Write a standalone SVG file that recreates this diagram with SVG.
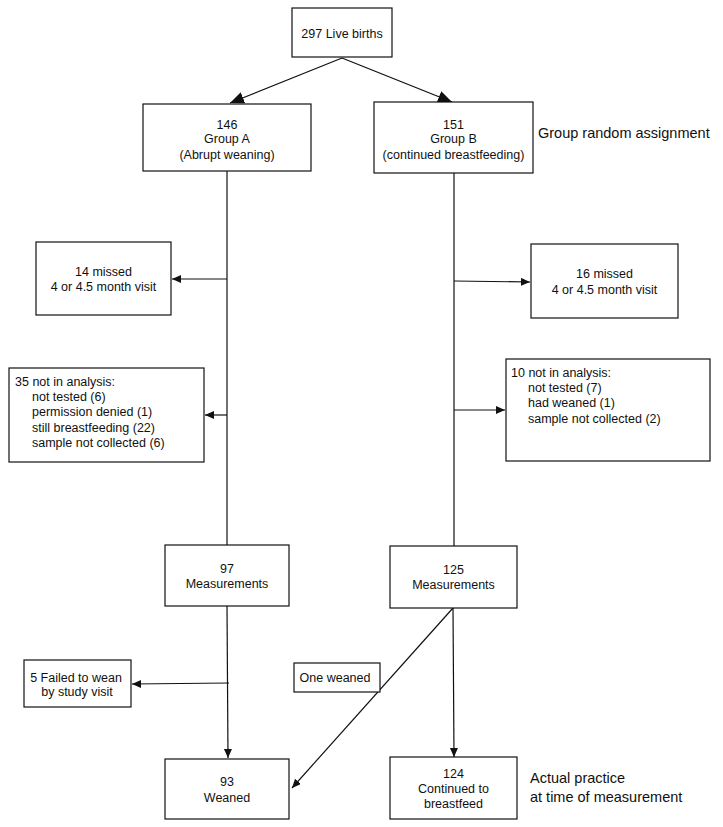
<svg xmlns="http://www.w3.org/2000/svg" width="723" height="827" viewBox="0 0 723 827">
<style>
.box{fill:#fff;stroke:#111;stroke-width:1.2}
.t{font-family:"Liberation Sans",Arial,sans-serif;font-size:12.5px;fill:#111}
.c{text-anchor:middle}
.big{font-family:"Liberation Sans",Arial,sans-serif;font-size:14.5px;fill:#111}
.ln{stroke:#111;stroke-width:1.2;fill:none}
</style>
<defs>
<marker id="ab" markerUnits="userSpaceOnUse" markerWidth="16" markerHeight="14" refX="14" refY="6" orient="auto">
<path d="M0,0 L14,6 L0,12 Z" fill="#111"/>
</marker>
<marker id="as" markerUnits="userSpaceOnUse" markerWidth="12" markerHeight="10" refX="9" refY="4" orient="auto">
<path d="M0,0 L9,4 L0,8 Z" fill="#111"/>
</marker>
</defs>
<g id="connectors">
<line class="ln" x1="342" y1="58" x2="230" y2="103" marker-end="url(#ab)"/>
<line class="ln" x1="342" y1="58" x2="452" y2="102" marker-end="url(#ab)"/>
<line class="ln" x1="227" y1="171" x2="227" y2="545"/>
<line class="ln" x1="454" y1="173" x2="454" y2="546"/>
<line class="ln" x1="227" y1="279" x2="172" y2="279" marker-end="url(#as)"/>
<line class="ln" x1="227" y1="415" x2="205" y2="415" marker-end="url(#as)"/>
<line class="ln" x1="454" y1="281" x2="530" y2="282" marker-end="url(#as)"/>
<line class="ln" x1="454" y1="410" x2="505" y2="410" marker-end="url(#as)"/>
<line class="ln" x1="227" y1="606" x2="228" y2="758" marker-end="url(#as)"/>
<line class="ln" x1="229" y1="683" x2="132" y2="684" marker-end="url(#as)"/>
<line class="ln" x1="453" y1="608" x2="454" y2="757" marker-end="url(#as)"/>
<line class="ln" x1="453" y1="608" x2="292" y2="788" marker-end="url(#as)"/>
</g>
<g id="live-births">
<rect class="box" x="292" y="8" width="100" height="49"/>
<text class="t c" x="342" y="37.5">297 Live births</text>
</g>
<g id="group-a">
<rect class="box" x="143" y="104" width="168" height="67"/>
<text class="t c" x="227" y="128.5">146</text>
<text class="t c" x="227" y="143">Group A</text>
<text class="t c" x="227" y="158.5">(Abrupt weaning)</text>
</g>
<g id="group-b">
<rect class="box" x="374" y="102" width="159" height="71"/>
<text class="t c" x="453.5" y="128.5">151</text>
<text class="t c" x="453.5" y="143">Group B</text>
<text class="t c" x="453.5" y="158.5">(continued breastfeeding)</text>
</g>
<g id="label-assignment">
<text class="big" x="538" y="138">Group random assignment</text>
</g>
<g id="missed-a">
<rect class="box" x="36" y="242" width="135" height="73"/>
<text class="t c" x="103.5" y="275.5">14 missed</text>
<text class="t c" x="103.5" y="290.5">4 or 4.5 month visit</text>
</g>
<g id="missed-b">
<rect class="box" x="531" y="244" width="147" height="74"/>
<text class="t c" x="604.5" y="277.5">16 missed</text>
<text class="t c" x="604.5" y="293.5">4 or 4.5 month visit</text>
</g>
<g id="not-analysis-a">
<rect class="box" x="9" y="368" width="195" height="94"/>
<text class="t" x="15" y="386">35 not in analysis:</text>
<text class="t" x="32" y="401">not tested (6)</text>
<text class="t" x="32" y="416">permission denied (1)</text>
<text class="t" x="32" y="431.5">still breastfeeding (22)</text>
<text class="t" x="32" y="446.5">sample not collected (6)</text>
</g>
<g id="not-analysis-b">
<rect class="box" x="506" y="359" width="204" height="102"/>
<text class="t" x="511" y="376.5">10 not in analysis:</text>
<text class="t" x="528" y="391.5">not tested (7)</text>
<text class="t" x="528" y="407">had weaned (1)</text>
<text class="t" x="528" y="422.5">sample not collected (2)</text>
</g>
<g id="meas-a">
<rect class="box" x="165" y="545" width="124" height="61"/>
<text class="t c" x="227" y="572.5">97</text>
<text class="t c" x="227" y="587.5">Measurements</text>
</g>
<g id="meas-b">
<rect class="box" x="390" y="546" width="127" height="62"/>
<text class="t c" x="453.5" y="573.5">125</text>
<text class="t c" x="453.5" y="588.5">Measurements</text>
</g>
<g id="failed">
<rect class="box" x="24" y="660" width="107" height="47"/>
<text class="t c" x="76" y="681.5">5 Failed to wean</text>
<text class="t c" x="77" y="695.5">by study visit</text>
</g>
<g id="one-weaned">
<rect class="box" x="294" y="663" width="86" height="29"/>
<text class="t c" x="335" y="681.5">One weaned</text>
</g>
<g id="weaned">
<rect class="box" x="165" y="759" width="124" height="60"/>
<text class="t c" x="227" y="785.5">93</text>
<text class="t c" x="227" y="801.5">Weaned</text>
</g>
<g id="continued">
<rect class="box" x="390" y="757" width="127" height="62"/>
<text class="t c" x="453.5" y="777.5">124</text>
<text class="t c" x="453.5" y="792.5">Continued to</text>
<text class="t c" x="453.5" y="807.5">breastfeed</text>
</g>
<g id="label-practice">
<text class="big" x="530" y="783">Actual practice</text>
<text class="big" x="530" y="802">at time of measurement</text>
</g>
</svg>
